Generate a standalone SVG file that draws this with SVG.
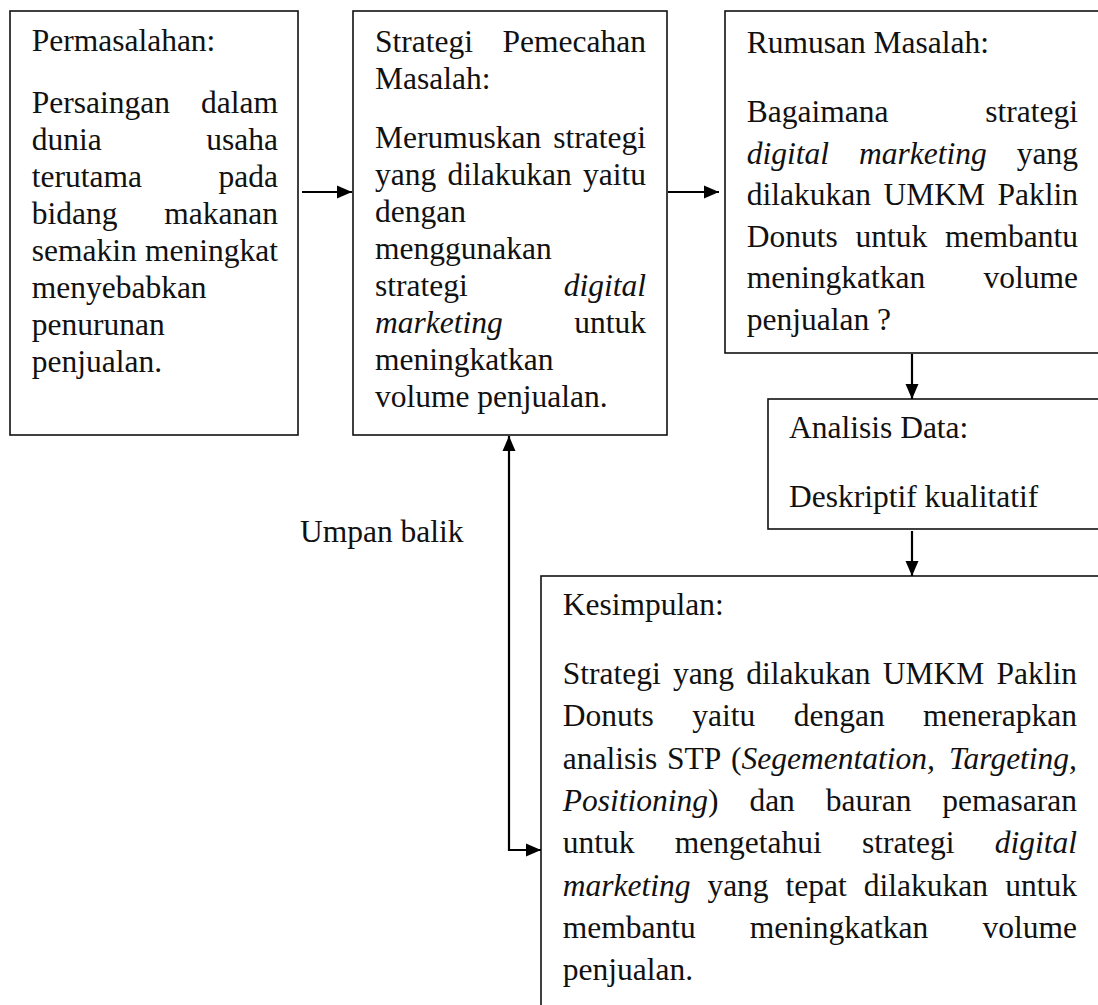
<svg xmlns="http://www.w3.org/2000/svg" width="1098" height="1005" viewBox="0 0 1098 1005">
<style>
.box{fill:#fff;stroke:#111;stroke-width:1.6}
.t{font-family:"Liberation Serif","Times New Roman",serif;font-size:31.5px;fill:#111}
.i{font-style:italic}
.e{text-anchor:end}
.c{fill:none;stroke:#000;stroke-width:2.2}
</style>
<defs>
<marker id="ah" markerUnits="userSpaceOnUse" markerWidth="16" markerHeight="14" refX="15" refY="7" orient="auto-start-reverse">
<path d="M0,0.5 L15,7 L0,13.5 z" fill="#000"/>
</marker>
</defs>
<rect width="1098" height="1005" fill="#fff"/>

<g id="permasalahan">
<rect class="box" x="10" y="11" width="288" height="424"/>
<text class="t" x="31.7" y="51">Permasalahan:</text>
<text class="t" x="31.7" y="113">Persaingan</text><text class="t e" x="278" y="113">dalam</text>
<text class="t" x="31.7" y="150">dunia</text><text class="t e" x="278" y="150">usaha</text>
<text class="t" x="31.7" y="187">terutama</text><text class="t e" x="278" y="187">pada</text>
<text class="t" x="31.7" y="224">bidang</text><text class="t e" x="278" y="224">makanan</text>
<text class="t" x="31.7" y="261">semakin</text><text class="t e" x="278" y="261">meningkat</text>
<text class="t" x="31.7" y="298">menyebabkan</text>
<text class="t" x="31.7" y="335">penurunan</text>
<text class="t" x="31.7" y="372">penjualan.</text>
</g>

<g id="strategi">
<rect class="box" x="353" y="11" width="314" height="424"/>
<text class="t" x="375" y="52">Strategi</text><text class="t e" x="646" y="52">Pemecahan</text>
<text class="t" x="375" y="89">Masalah:</text>
<text class="t" x="375" y="148">Merumuskan</text><text class="t e" x="646" y="148">strategi</text>
<text class="t" x="375" y="185">yang</text><text class="t" x="447.5" y="185">dilakukan</text><text class="t e" x="646" y="185">yaitu</text>
<text class="t" x="375" y="222">dengan</text>
<text class="t" x="375" y="259">menggunakan</text>
<text class="t" x="375" y="296">strategi</text><text class="t e i" x="646" y="296">digital</text>
<text class="t i" x="375" y="333">marketing</text><text class="t e" x="646" y="333">untuk</text>
<text class="t" x="375" y="370">meningkatkan</text>
<text class="t" x="375" y="407">volume penjualan.</text>
</g>

<g id="rumusan">
<rect class="box" x="725" y="11" width="400" height="342"/>
<text class="t" x="746.7" y="53">Rumusan Masalah:</text>
<text class="t" x="746.7" y="122">Bagaimana</text><text class="t e" x="1078" y="122">strategi</text>
<text class="t i" x="746.7" y="163.6">digital</text><text class="t i" x="859" y="163.6">marketing</text><text class="t e" x="1078" y="163.6">yang</text>
<text class="t" x="746.7" y="205.2">dilakukan</text><text class="t" x="883.4" y="205.2">UMKM</text><text class="t e" x="1078" y="205.2">Paklin</text>
<text class="t" x="746.7" y="246.8">Donuts</text><text class="t" x="855.5" y="246.8">untuk</text><text class="t e" x="1078" y="246.8">membantu</text>
<text class="t" x="746.7" y="288.4">meningkatkan</text><text class="t e" x="1078" y="288.4">volume</text>
<text class="t" x="746.7" y="330">penjualan ?</text>
</g>

<g id="analisis">
<rect class="box" x="768" y="399" width="360" height="130"/>
<text class="t" x="789" y="438">Analisis Data:</text>
<text class="t" x="789" y="507">Deskriptif kualitatif</text>
</g>

<g id="kesimpulan">
<rect class="box" x="541" y="576" width="600" height="460"/>
<text class="t" x="562.7" y="615">Kesimpulan:</text>
<text class="t" x="562.7" y="684">Strategi</text><text class="t" x="672.9" y="684">yang</text><text class="t" x="746.3" y="684">dilakukan</text><text class="t" x="882.7" y="684">UMKM</text><text class="t e" x="1077" y="684">Paklin</text>
<text class="t" x="562.7" y="726.3">Donuts</text><text class="t" x="692.2" y="726.3">yaitu</text><text class="t" x="793.7" y="726.3">dengan</text><text class="t e" x="1077" y="726.3">menerapkan</text>
<text class="t" x="562.7" y="768.6">analisis</text><text class="t" x="667" y="768.6">STP</text><text class="t" x="731.1" y="768.6">(<tspan class="i">Segementation,</tspan></text><text class="t e i" x="1077" y="768.6">Targeting,</text>
<text class="t" x="562.7" y="810.9"><tspan class="i">Positioning</tspan>)</text><text class="t" x="749.4" y="810.9">dan</text><text class="t" x="825.8" y="810.9">bauran</text><text class="t e" x="1077" y="810.9">pemasaran</text>
<text class="t" x="562.7" y="853.2">untuk</text><text class="t" x="674.7" y="853.2">mengetahui</text><text class="t" x="861.9" y="853.2">strategi</text><text class="t e i" x="1077" y="853.2">digital</text>
<text class="t i" x="562.7" y="895.5">marketing</text><text class="t" x="707.4" y="895.5">yang</text><text class="t" x="785.6" y="895.5">tepat</text><text class="t" x="863.8" y="895.5">dilakukan</text><text class="t e" x="1077" y="895.5">untuk</text>
<text class="t" x="562.7" y="937.8">membantu</text><text class="t" x="749.85" y="937.8">meningkatkan</text><text class="t e" x="1077" y="937.8">volume</text>
<text class="t" x="562.7" y="980.1">penjualan.</text>
</g>

<g id="umpan-balik">
<text class="t" x="300" y="542">Umpan balik</text>
</g>

<g id="connectors">
<line class="c" x1="302" y1="192" x2="352" y2="192" marker-end="url(#ah)"/>
<line class="c" x1="668" y1="192" x2="719" y2="192" marker-end="url(#ah)"/>
<line class="c" x1="912" y1="354" x2="912" y2="399" marker-end="url(#ah)"/>
<line class="c" x1="912" y1="531" x2="912" y2="576" marker-end="url(#ah)"/>
<path class="c" d="M509,436 L509,850 L541,850" marker-start="url(#ah)" marker-end="url(#ah)"/>
</g>
</svg>
